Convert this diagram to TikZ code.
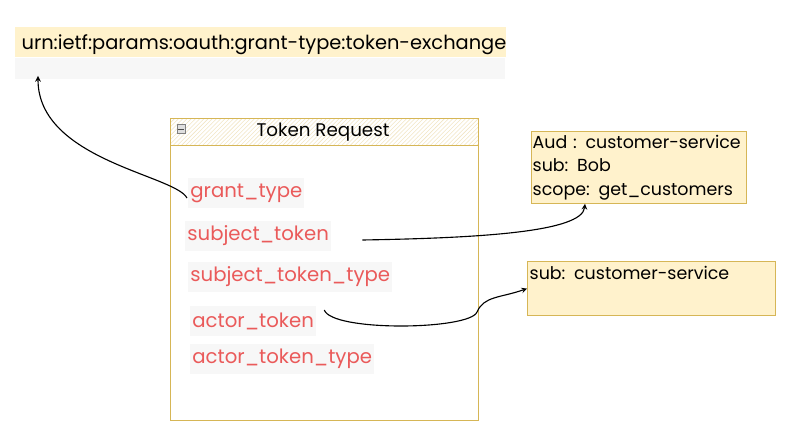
\documentclass[tikz,border=0pt]{standalone}
\usepackage{fontspec}
\setmainfont{Poppins}
\usetikzlibrary{calc,patterns}
\definecolor{noteyellow}{HTML}{FFF2CC}
\definecolor{notestroke}{HTML}{D6B656}
\definecolor{fieldred}{HTML}{EA5A5A}
\definecolor{fieldgray}{HTML}{F7F7F7}

\begin{document}
\begin{tikzpicture}
[x=0.025cm,y=-0.025cm,>=stealth,
 field/.style={fill=fieldgray,text=fieldred,anchor=west,inner xsep=1.5pt,minimum height=21.3pt,font=\fontsize{14}{16}\selectfont},
 note/.style={draw=notestroke,fill=noteyellow,line width=0.8pt,anchor=north west,font=\fontsize{12.4}{16.7}\selectfont},
 link/.style={->,line width=0.8pt}]

\useasboundingbox (0,0) rectangle (800,445);

% the grant type banner
\node[fill=noteyellow,anchor=north west,minimum width=348.5pt,minimum height=21.3pt,text width=340pt,inner xsep=4.5pt,inner ysep=0pt,text height=16pt,text depth=5.3pt,align=left,font=\fontsize{13.8}{15}\selectfont] (urn) at (15,27) {\mbox{urn:ietf:params:oauth:grant-type:token-exchange}};
\node[fill=fieldgray,anchor=north west,minimum width=348.5pt,minimum height=15pt,inner sep=0pt] (urnband) at (urn.south west) {};
\coordinate (urntip) at (38,76);

% the token request table
\node[draw=notestroke,line width=0.9pt,anchor=north west,minimum width=219pt,minimum height=214.8pt] (req) at (170,118) {};
\node[draw=notestroke,line width=0.9pt,pattern=north east lines,pattern color=notestroke!35,anchor=north west,minimum width=219pt,minimum height=19.2pt] (reqhead) at (170,118) {};
\node[font=\fontsize{13}{15}\selectfont] (reqtitle) at (323,132) {Token Request};
\node[draw=gray,fill=gray!25,minimum size=6pt,inner sep=0pt] (fold) at (181,129) {};
\draw[gray!60!black] ([xshift=1.2pt]fold.west) -- ([xshift=-1.2pt]fold.east);

% the fields
\node[field] (grant) at (188,193) {grant\_type};
\node[field] (subj) at (185,236) {subject\_token};
\node[field] (subjtype) at (188,277) {subject\_token\_type};
\node[field] (actor) at (190,321) {actor\_token};
\node[field] (actortype) at (190,359) {actor\_token\_type};

% the token claims
\node[note,text width=151pt,inner xsep=0.8pt,inner ysep=2pt,minimum height=51pt,align=left] (subjclaims) at (531,131) {\mbox{Aud : customer-service}\\sub: Bob\\\mbox{scope: get\_customers}};
\node[note,text width=173pt,inner xsep=1.5pt,inner ysep=3pt,text depth=23pt] (actorclaims) at (527,261) {\mbox{sub: customer-service}};

% the links
\draw[link] ($(grant.west)+(-1,5)$) .. controls (175,175) and (38,160) .. (urntip);
\draw[link] ($(subj.east)+(31,4)$) .. controls (480,238) and (582,232) .. ($(subjclaims.south west)+(54,0)$);
\draw[link] ($(actor.east)+(8,-11)$) .. controls (332,332) and (470,330) .. (477,312) .. controls (484,296) and (500,298) .. (actorclaims.west);

\end{tikzpicture}
\end{document}
